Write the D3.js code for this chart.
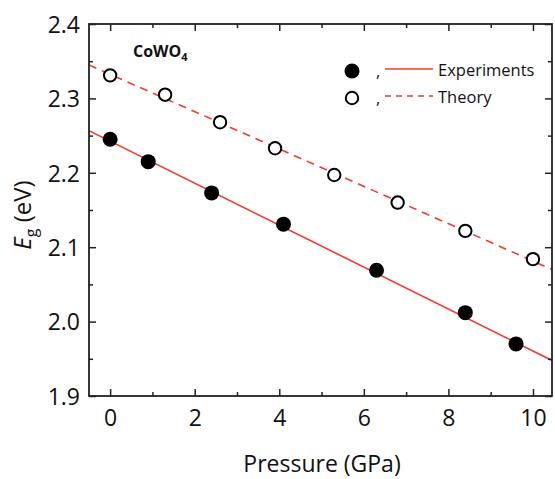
<!DOCTYPE html>
<html>
<head>
<meta charset="utf-8">
<script src="https://cdn.jsdelivr.net/npm/d3@7"></script>
<style>
  body { margin: 0; background: #fff; }
  text { font-family: "Open Sans", sans-serif; fill: #111; }
</style>
</head>
<body>
<div id="chart"></div>
<script>
// data
var expPressure = [0, 0.9, 2.4, 4.1, 6.3, 8.4, 9.6];
var expGap = [2.245, 2.215, 2.173, 2.131, 2.069, 2.012, 1.970];
var theoPressure = [0, 1.3, 2.6, 3.9, 5.3, 6.8, 8.4, 10];
var theoGap = [2.331, 2.305, 2.268, 2.233, 2.197, 2.160, 2.122, 2.084];
// linear fits: [intercept, slope]
var expFit = [2.2425, -0.0282];
var theoFit = [2.3324, -0.0251];
var xTicks = [0, 2, 4, 6, 8, 10];
var yTicks = [1.9, 2.0, 2.1, 2.2, 2.3, 2.4];

var svgWidth = 555;
var svgHeight = 479;
var margin = { top: 24, right: 3, bottom: 83, left: 89 };
var width = svgWidth - margin.left - margin.right;
var height = svgHeight - margin.top - margin.bottom;
var red = "#f23b2f";

var svg = d3.select("#chart")
  .append("svg")
  .attr("width", svgWidth)
  .attr("height", svgHeight);

var chartGroup = svg.append("g")
  .attr("transform", `translate(${margin.left}, ${margin.top})`);

var xScale = d3.scaleLinear().domain([-0.5, 10.45]).range([0, width]);
var yScale = d3.scaleLinear().domain([1.9, 2.4]).range([height, 0]);

chartGroup.append("clipPath").attr("id", "clip")
  .append("rect").attr("width", width).attr("height", height);

// fit lines
function fitLine(fit) {
  return xScale.domain().map(p => [p, fit[0] + fit[1] * p]);
}
var line = d3.line().x(d => xScale(d[0])).y(d => yScale(d[1]));

chartGroup.append("path")
  .attr("d", line(fitLine(expFit)))
  .attr("clip-path", "url(#clip)")
  .attr("fill", "none")
  .attr("stroke", red)
  .attr("stroke-width", 1.6);

chartGroup.append("path")
  .attr("d", line(fitLine(theoFit)))
  .attr("clip-path", "url(#clip)")
  .attr("fill", "none")
  .attr("stroke", red)
  .attr("stroke-width", 1.6)
  .attr("stroke-dasharray", "8,6");

// points
chartGroup.selectAll(".exp")
  .data(expPressure)
  .enter()
  .append("circle")
  .attr("cx", d => xScale(d))
  .attr("cy", (d, i) => yScale(expGap[i]))
  .attr("r", 7.5)
  .attr("fill", "#000");

chartGroup.selectAll(".theo")
  .data(theoPressure)
  .enter()
  .append("circle")
  .attr("cx", d => xScale(d))
  .attr("cy", (d, i) => yScale(theoGap[i]))
  .attr("r", 6.2)
  .attr("fill", "#fff")
  .attr("stroke", "#000")
  .attr("stroke-width", 2);

// axes with inward ticks, minor ticks at half steps
var xMinor = [1, 3, 5, 7, 9];
var yMinor = [1.95, 2.05, 2.15, 2.25, 2.35];

function styleAxis(g) {
  g.select(".domain").remove();
  g.selectAll("line").attr("stroke", "#222").attr("stroke-width", 1.5);
}

var bottomAxis = d3.axisBottom(xScale).tickValues(xTicks).tickSize(-7).tickPadding(14).tickFormat(d3.format("d"));
var gx = chartGroup.append("g")
  .attr("transform", `translate(0, ${height})`)
  .call(bottomAxis)
  .call(styleAxis);
gx.selectAll("text").attr("font-size", 23).attr("dy", "0.71em");

chartGroup.append("g").attr("transform", `translate(0, ${height})`)
  .call(d3.axisBottom(xScale).tickValues(xMinor).tickSize(-4).tickFormat(""))
  .call(styleAxis);
chartGroup.append("g")
  .call(d3.axisTop(xScale).tickValues(xTicks).tickSize(-7).tickFormat(""))
  .call(styleAxis);
chartGroup.append("g")
  .call(d3.axisTop(xScale).tickValues(xMinor).tickSize(-4).tickFormat(""))
  .call(styleAxis);

var leftAxis = d3.axisLeft(yScale).tickValues(yTicks).tickSize(-7).tickPadding(9).tickFormat(d3.format(".1f"));
var gy = chartGroup.append("g")
  .call(leftAxis)
  .call(styleAxis);
gy.selectAll("text").attr("font-size", 23).attr("dy", "0.36em");

chartGroup.append("g")
  .call(d3.axisLeft(yScale).tickValues(yMinor).tickSize(-4).tickFormat(""))
  .call(styleAxis);
chartGroup.append("g").attr("transform", `translate(${width}, 0)`)
  .call(d3.axisRight(yScale).tickValues(yTicks).tickSize(-7).tickFormat(""))
  .call(styleAxis);
chartGroup.append("g").attr("transform", `translate(${width}, 0)`)
  .call(d3.axisRight(yScale).tickValues(yMinor).tickSize(-4).tickFormat(""))
  .call(styleAxis);

// frame
chartGroup.append("rect")
  .attr("width", width)
  .attr("height", height)
  .attr("fill", "none")
  .attr("stroke", "#222")
  .attr("stroke-width", 1.8);

// sample label
var sample = chartGroup.append("text")
  .attr("x", 44)
  .attr("y", 33)
  .attr("font-size", 16)
  .attr("font-weight", "bold");
sample.append("tspan").text("CoWO");
sample.append("tspan").attr("font-size", 11).attr("dy", 4).text("4");

// legend
var legend = chartGroup.append("g").attr("transform", "translate(263, 47)");
legend.append("circle").attr("cx", 0).attr("cy", 0).attr("r", 7.5).attr("fill", "#000");
legend.append("circle").attr("cx", 0).attr("cy", 27).attr("r", 6.2)
  .attr("fill", "#fff").attr("stroke", "#000").attr("stroke-width", 2);
legend.append("text").attr("x", 24).attr("y", 6).attr("font-size", 16.5).text(",");
legend.append("text").attr("x", 24).attr("y", 33).attr("font-size", 16.5).text(",");
legend.append("line").attr("x1", 33).attr("x2", 81).attr("y1", -2).attr("y2", -2)
  .attr("stroke", red).attr("stroke-width", 1.6);
legend.append("line").attr("x1", 33).attr("x2", 81).attr("y1", 25).attr("y2", 25)
  .attr("stroke", red).attr("stroke-width", 1.6).attr("stroke-dasharray", "6,5");
legend.append("text").attr("x", 86).attr("y", 5).attr("font-size", 16.5).text("Experiments");
legend.append("text").attr("x", 86).attr("y", 32).attr("font-size", 16.5).text("Theory");

// axis titles
svg.append("text")
  .attr("x", 322)
  .attr("y", 472)
  .attr("text-anchor", "middle")
  .attr("font-size", 23)
  .text("Pressure (GPa)");

var yTitle = svg.append("text")
  .attr("transform", "translate(31, 215) rotate(-90)")
  .attr("text-anchor", "middle")
  .attr("font-size", 24);
yTitle.append("tspan").attr("font-style", "italic").text("E");
yTitle.append("tspan").attr("font-size", 16).attr("dy", 6).text("g");
yTitle.append("tspan").attr("dy", -6).text(" (eV)");
</script>
</body>
</html>
